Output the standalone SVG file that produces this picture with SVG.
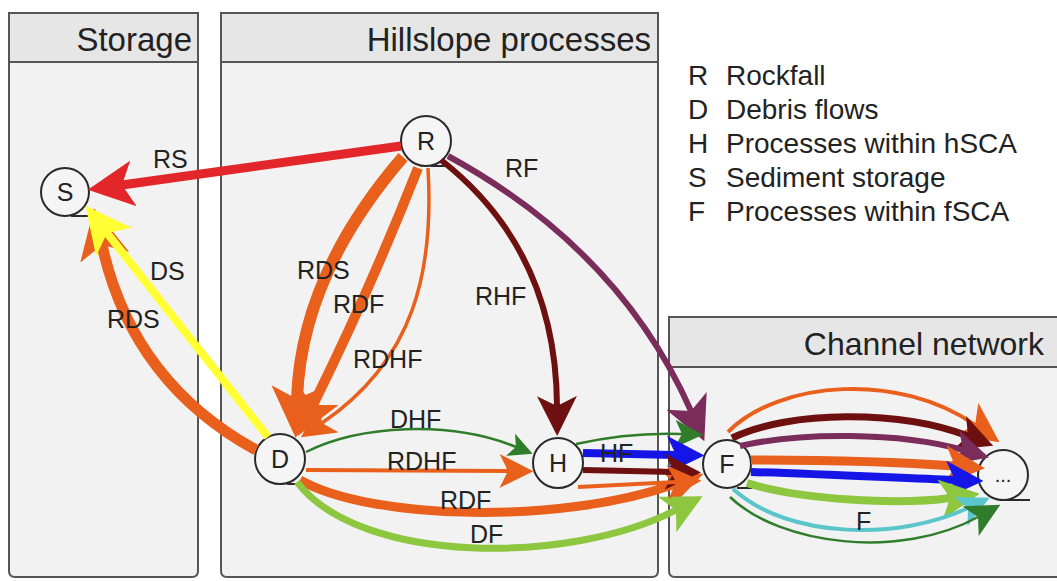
<svg xmlns="http://www.w3.org/2000/svg" width="1057" height="581" viewBox="0 0 1057 581">
<style>
.panel{fill:#f2f2f2;stroke:#555;stroke-width:2}
.head{fill:#e6e6e6;stroke:#555;stroke-width:2}
.htxt{font-family:"Liberation Sans",Arial,sans-serif;font-size:33px;fill:#222;text-anchor:end}
.leg{font-family:"Liberation Sans",Arial,sans-serif;font-size:28px;fill:#222}
.node circle{fill:#f5f5f5;stroke:#2a2a2a;stroke-width:2}
.node text{font-family:"Liberation Sans",Arial,sans-serif;font-size:25px;fill:#222;text-anchor:middle}
.node line{stroke:#2a2a2a;stroke-width:2}
.lbl{font-family:"Liberation Sans",Arial,sans-serif;font-size:25px;fill:#222}
.e{fill:none;stroke-linecap:butt}
</style>
<defs>
<marker id="mRed" viewBox="0 0 20 20" refX="5" refY="10" markerWidth="46" markerHeight="46" markerUnits="userSpaceOnUse" orient="auto"><path d="M0,0 L20,10 L0,20 L5,10 Z" fill="#e3262a"/></marker>
<marker id="mYel" viewBox="0 0 20 20" refX="5" refY="10" markerWidth="46" markerHeight="46" markerUnits="userSpaceOnUse" orient="auto"><path d="M0,0 L20,10 L0,20 L5,10 Z" fill="#ffff33"/></marker>
<marker id="mOr52" viewBox="0 0 20 20" refX="5" refY="10" markerWidth="52" markerHeight="52" markerUnits="userSpaceOnUse" orient="auto"><path d="M0,0 L20,10 L0,20 L5,10 Z" fill="#e8601c"/></marker>
<marker id="mOr50" viewBox="0 0 20 20" refX="5" refY="10" markerWidth="50" markerHeight="50" markerUnits="userSpaceOnUse" orient="auto"><path d="M0,0 L20,10 L0,20 L5,10 Z" fill="#e8601c"/></marker>
<marker id="mOr46" viewBox="0 0 20 20" refX="5" refY="10" markerWidth="46" markerHeight="46" markerUnits="userSpaceOnUse" orient="auto"><path d="M0,0 L20,10 L0,20 L5,10 Z" fill="#e8601c"/></marker>
<marker id="mOr40" viewBox="0 0 20 20" refX="5" refY="10" markerWidth="40" markerHeight="40" markerUnits="userSpaceOnUse" orient="auto"><path d="M0,0 L20,10 L0,20 L5,10 Z" fill="#e8601c"/></marker>
<marker id="mOr34" viewBox="0 0 20 20" refX="5" refY="10" markerWidth="34" markerHeight="34" markerUnits="userSpaceOnUse" orient="auto"><path d="M0,0 L20,10 L0,20 L5,10 Z" fill="#e8601c"/></marker>
<marker id="mMar40" viewBox="0 0 20 20" refX="5" refY="10" markerWidth="40" markerHeight="40" markerUnits="userSpaceOnUse" orient="auto"><path d="M0,0 L20,10 L0,20 L5,10 Z" fill="#6e1010"/></marker>
<marker id="mMar36" viewBox="0 0 20 20" refX="5" refY="10" markerWidth="36" markerHeight="36" markerUnits="userSpaceOnUse" orient="auto"><path d="M0,0 L20,10 L0,20 L5,10 Z" fill="#6e1010"/></marker>
<marker id="mPur44" viewBox="0 0 20 20" refX="5" refY="10" markerWidth="44" markerHeight="44" markerUnits="userSpaceOnUse" orient="auto"><path d="M0,0 L20,10 L0,20 L5,10 Z" fill="#7a2c5a"/></marker>
<marker id="mPur36" viewBox="0 0 20 20" refX="5" refY="10" markerWidth="36" markerHeight="36" markerUnits="userSpaceOnUse" orient="auto"><path d="M0,0 L20,10 L0,20 L5,10 Z" fill="#7a2c5a"/></marker>
<marker id="mGrn24" viewBox="0 0 20 20" refX="5" refY="10" markerWidth="24" markerHeight="24" markerUnits="userSpaceOnUse" orient="auto"><path d="M0,0 L20,10 L0,20 L5,10 Z" fill="#2f7d2a"/></marker>
<marker id="mGrn28" viewBox="0 0 20 20" refX="5" refY="10" markerWidth="28" markerHeight="28" markerUnits="userSpaceOnUse" orient="auto"><path d="M0,0 L20,10 L0,20 L5,10 Z" fill="#2f7d2a"/></marker>
<marker id="mGrn34" viewBox="0 0 20 20" refX="5" refY="10" markerWidth="34" markerHeight="34" markerUnits="userSpaceOnUse" orient="auto"><path d="M0,0 L20,10 L0,20 L5,10 Z" fill="#2f7d2a"/></marker>
<marker id="mLgr40" viewBox="0 0 20 20" refX="5" refY="10" markerWidth="40" markerHeight="40" markerUnits="userSpaceOnUse" orient="auto"><path d="M0,0 L20,10 L0,20 L5,10 Z" fill="#8dc63f"/></marker>
<marker id="mBlu38" viewBox="0 0 20 20" refX="5" refY="10" markerWidth="38" markerHeight="38" markerUnits="userSpaceOnUse" orient="auto"><path d="M0,0 L20,10 L0,20 L5,10 Z" fill="#1515e8"/></marker>
<marker id="mCya32" viewBox="0 0 20 20" refX="5" refY="10" markerWidth="32" markerHeight="32" markerUnits="userSpaceOnUse" orient="auto"><path d="M0,0 L20,10 L0,20 L5,10 Z" fill="#5bc5cc"/></marker>
</defs>
<rect x="0" y="0" width="1057" height="581" fill="#ffffff"/>
<g id="panel-storage">
<path class="panel" d="M9,13 H198 V571 Q198,577 192,577 H15 Q9,577 9,571 Z"/>
<rect class="head" x="9" y="13" width="189" height="49"/>
<text class="htxt" x="192" y="51">Storage</text>
</g>
<g id="panel-hillslope">
<path class="panel" d="M221,13 H658 V571 Q658,577 652,577 H227 Q221,577 221,571 Z"/>
<rect class="head" x="221" y="13" width="437" height="49"/>
<text class="htxt" x="651" y="51">Hillslope processes</text>
</g>
<g id="panel-channel">
<path class="panel" d="M669,317 H1070 V577 H675 Q669,577 669,571 Z"/>
<rect class="head" x="669" y="317" width="401" height="50"/>
<text class="htxt" x="1044" y="355" style="font-size:32px">Channel network</text>
</g>
<g id="legend">
<text class="leg" x="688" y="85">R</text><text class="leg" x="726" y="85">Rockfall</text>
<text class="leg" x="688" y="119">D</text><text class="leg" x="726" y="119">Debris flows</text>
<text class="leg" x="688" y="153">H</text><text class="leg" x="726" y="153">Processes within hSCA</text>
<text class="leg" x="688" y="187">S</text><text class="leg" x="726" y="187">Sediment storage</text>
<text class="leg" x="688" y="221">F</text><text class="leg" x="726" y="221">Processes within fSCA</text>
</g>
<g id="node-S" class="node"><circle cx="65" cy="192" r="24"/><line x1="71" y1="216" x2="89" y2="216"/><text x="65" y="201">S</text></g>
<g id="node-R" class="node"><circle cx="426" cy="141" r="25"/><line x1="431" y1="166" x2="450" y2="166"/><text x="426" y="150">R</text></g>
<g id="node-D" class="node"><circle cx="280" cy="459" r="25"/><line x1="287" y1="484" x2="305" y2="484"/><text x="280" y="468">D</text></g>
<g id="node-H" class="node"><circle cx="558" cy="463" r="25"/><text x="558" y="472">H</text></g>
<g id="node-F" class="node"><circle cx="727" cy="464" r="24"/><line x1="737" y1="488" x2="752" y2="488"/><text x="727" y="473">F</text></g>
<g id="node-more" class="node"><circle cx="1003" cy="475" r="25"/><line x1="1000" y1="500" x2="1030" y2="500"/><text x="1003" y="482" style="font-size:20px">...</text></g>
<g id="connectors">
<path class="e" d="M256,450 Q132,382 102,245" stroke="#e8601c" stroke-width="11" marker-end="url(#mOr50)"/>
<path class="e" d="M268,437 L107,233" stroke="#ffff33" stroke-width="8" marker-end="url(#mYel)"/>
<path class="e" d="M401,146 L122,185" stroke="#e3262a" stroke-width="9" marker-end="url(#mRed)"/>
<path class="e" d="M403,157 C340,230 300,310 297,399" stroke="#e8601c" stroke-width="12" marker-end="url(#mOr52)"/>
<path class="e" d="M418,168 Q370,290 313,405" stroke="#e8601c" stroke-width="10" marker-end="url(#mOr46)"/>
<path class="e" d="M428,168 C434,270 415,360 322,423" stroke="#e8601c" stroke-width="3.5" marker-end="url(#mOr34)"/>
<path class="e" d="M441,160 Q556,250 557,406" stroke="#6e1010" stroke-width="6" marker-end="url(#mMar40)"/>
<path class="e" d="M448,156 Q620,250 691,411" stroke="#7a2c5a" stroke-width="6" marker-end="url(#mPur44)"/>
<path class="e" d="M306,452 C360,425 450,420 516,447" stroke="#2f7d2a" stroke-width="2.5" marker-end="url(#mGrn24)"/>
<path class="e" d="M306,470 L508,471" stroke="#e8601c" stroke-width="4" marker-end="url(#mOr34)"/>
<path class="e" d="M300,480 C370,520 560,525 675,484" stroke="#e8601c" stroke-width="9" marker-end="url(#mOr40)"/>
<path class="e" d="M297,482 C360,565 570,565 676,510" stroke="#8dc63f" stroke-width="7" marker-end="url(#mLgr40)"/>
<path class="e" d="M576,444 Q630,432 682,434" stroke="#2f7d2a" stroke-width="2.5" marker-end="url(#mGrn28)"/>
<path class="e" d="M583,453 L676,455" stroke="#1515e8" stroke-width="8" marker-end="url(#mBlu38)"/>
<path class="e" d="M583,470 L674,472" stroke="#6e1010" stroke-width="6" marker-end="url(#mMar36)"/>
<path class="e" d="M578,487 L676,482" stroke="#e8601c" stroke-width="4" marker-end="url(#mOr34)"/>
<path class="e" d="M728,432 C780,380 900,372 975,425" stroke="#e8601c" stroke-width="4" marker-end="url(#mOr40)"/>
<path class="e" d="M732,438 C790,410 900,410 968,436" stroke="#6e1010" stroke-width="7" marker-end="url(#mMar36)"/>
<path class="e" d="M740,446 C800,432 900,432 963,450" stroke="#7a2c5a" stroke-width="6" marker-end="url(#mPur36)"/>
<path class="e" d="M751,460 C820,460 900,462 955,466" stroke="#e8601c" stroke-width="9" marker-end="url(#mOr40)"/>
<path class="e" d="M751,472 C820,474 900,478 955,480" stroke="#1515e8" stroke-width="8" marker-end="url(#mBlu38)"/>
<path class="e" d="M747,483 C800,500 900,505 950,498" stroke="#8dc63f" stroke-width="8" marker-end="url(#mLgr40)"/>
<path class="e" d="M733,489 C790,540 900,540 968,508" stroke="#5bc5cc" stroke-width="4" marker-end="url(#mCya32)"/>
<path class="e" d="M730,497 C780,545 900,560 978,517" stroke="#2f7d2a" stroke-width="2.5" marker-end="url(#mGrn34)"/>
</g>
<g id="labels">
<text class="lbl" x="153" y="168">RS</text>
<text class="lbl" x="505" y="177">RF</text>
<text class="lbl" x="297" y="279">RDS</text>
<text class="lbl" x="333" y="313">RDF</text>
<text class="lbl" x="353" y="368">RDHF</text>
<text class="lbl" x="475" y="305">RHF</text>
<text class="lbl" x="150" y="280">DS</text>
<text class="lbl" x="107" y="328">RDS</text>
<text class="lbl" x="390" y="428">DHF</text>
<text class="lbl" x="387" y="470">RDHF</text>
<text class="lbl" x="440" y="509">RDF</text>
<text class="lbl" x="470" y="543">DF</text>
<text class="lbl" x="600" y="462">HF</text>
<text class="lbl" x="856" y="530">F</text>
</g>
</svg>
